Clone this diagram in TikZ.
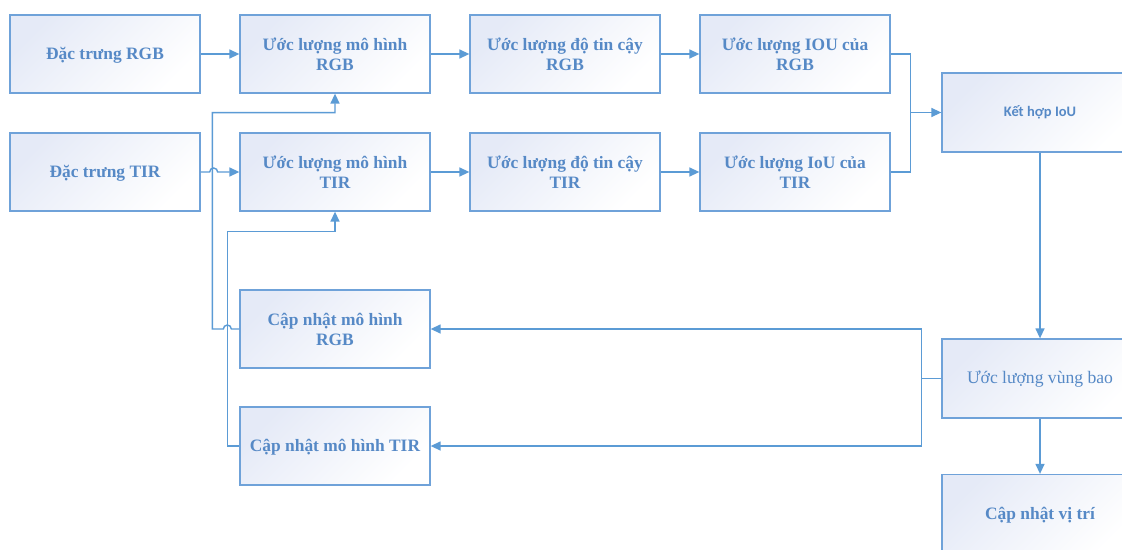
\documentclass[tikz,border=0pt]{standalone}
\usepackage{fontspec}
\setmainfont{Liberation Serif}
\newfontfamily\carl{Carlito}
\usetikzlibrary{arrows.meta,calc}
\definecolor{bord}{HTML}{6FA2D9}
\definecolor{txt}{HTML}{5689C6}
\definecolor{shd}{HTML}{E5EAF7}
\definecolor{lnk}{HTML}{5B9BD5}
\begin{document}
\begin{tikzpicture}[x=1pt,y=-1pt,
  box/.style={draw=bord, line width=1.3pt, left color=shd, right color=white, shading angle=45,
    minimum width=190pt, minimum height=78pt, text=txt,
    font=\fontsize{17.4}{20}\selectfont\bfseries, align=center, inner sep=0pt},
  rbox/.style={box, minimum width=196pt, minimum height=79pt},
  one/.style={text height=12pt, text depth=2pt},
  conn/.style={draw=lnk, line width=1.4pt},
  arr/.style={conn, -{Triangle[length=10pt,width=9pt]}}]
\clip (0,0) rectangle (1122,549);
\fill[white] (0,0) rectangle (1122,549);
% nodes
\node[box, one] (frgb) at (105,54) {Đặc trưng RGB};
\node[box, one] (ftir) at (105,172) {Đặc trưng TIR};
\node[box] (mrgb) at (335,54) {Ước lượng mô hình\\RGB};
\node[box] (mtir) at (335,172) {Ước lượng mô hình\\TIR};
\node[box] (crgb) at (565,54) {Ước lượng độ tin cậy\\RGB};
\node[box] (ctir) at (565,172) {Ước lượng độ tin cậy\\TIR};
\node[box] (irgb) at (795,54) {Ước lượng IOU của\\RGB};
\node[box] (itir) at (795,172) {Ước lượng IoU của\\TIR};
\node[rbox, font=\carl\fontsize{14.5}{17}\selectfont\bfseries] (kh) at (1040,112.5) {Kết hợp IoU};
\node[rbox, one, font=\fontsize{17.6}{20}\selectfont] (vb) at (1040,378.5) {Ước lượng vùng bao};
\node[rbox, one] (vt) at (1040,514) {Cập nhật vị trí};
\node[box] (urgb) at (335,329) {Cập nhật mô hình\\RGB};
\node[box, one] (utir) at (335,446) {Cập nhật mô hình TIR};
% connectors
\draw[arr] (frgb) -- (mrgb);
\draw[arr] (ftir.east) -- ++(9,0) arc[start angle=180,end angle=360,radius=4] -- (mtir.west);
\draw[arr] (mrgb) -- (crgb);
\draw[arr] (mtir) -- (ctir);
\draw[arr] (crgb) -- (irgb);
\draw[arr] (ctir) -- (itir);
\draw[arr] (urgb.west) -- ++(-8,0) arc[start angle=0,end angle=-180,radius=4] -- ++(-11,0)
   |- ($(mrgb.south)+(0,19)$) -- (mrgb.south);
\draw[arr] (utir.west) -- ++(-12,0) |- ($(mtir.south)+(0,20)$) -- (mtir.south);
\draw[conn] (irgb.east) -- ++(20,0) |- (kh.west);
\draw[arr] (itir.east) -- ++(20,0) |- (kh.west);
\draw[arr] (kh.south) -- (vb.north);
\draw[arr] (vb.west) -- ++(-20,0) |- (urgb.east);
\draw[arr] (vb.west) -- ++(-20,0) |- (utir.east);
\draw[arr] (vb.south) -- (vt.north);
\end{tikzpicture}
\end{document}
